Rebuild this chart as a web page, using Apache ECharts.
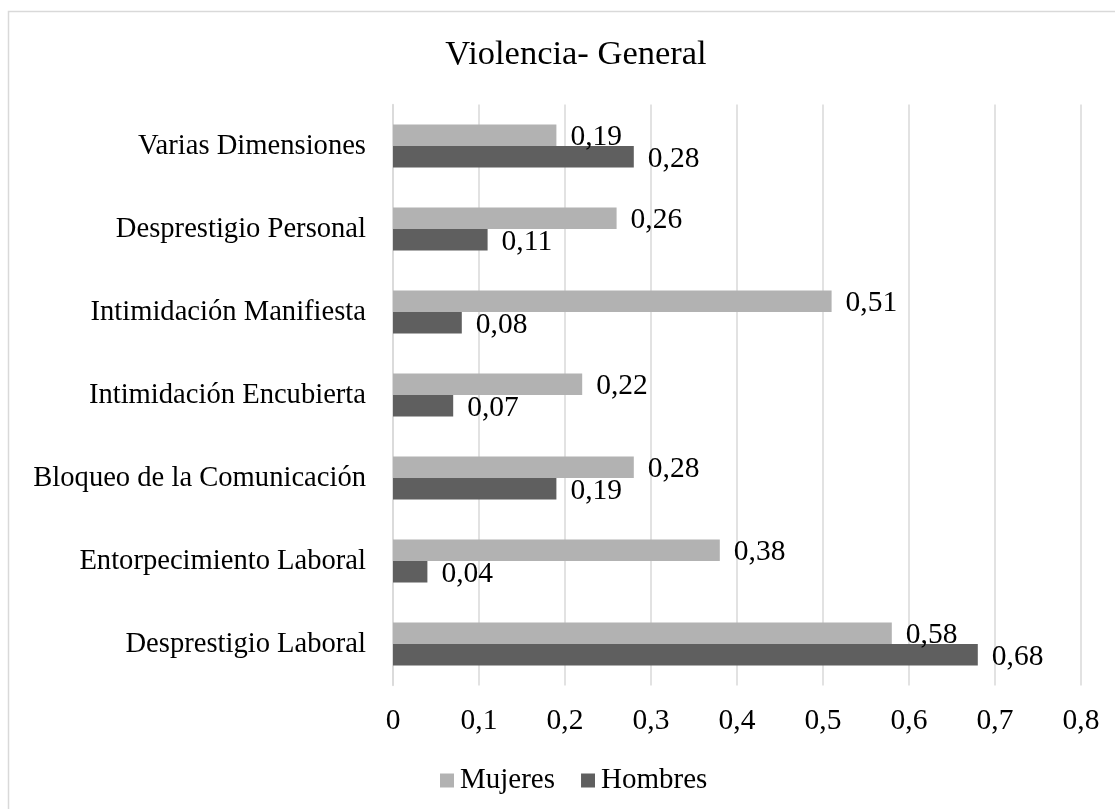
<!DOCTYPE html>
<html>
<head>
<meta charset="utf-8">
<title>Violencia- General</title>
<script src="https://cdn.jsdelivr.net/npm/echarts@6/dist/echarts.min.js"></script>
<style>
  html, body { margin: 0; padding: 0; background: #ffffff; }
  #chart { width: 1115px; height: 809px; }
</style>
</head>
<body>
<div id="chart"></div>
<script>
// Categories listed from the bottom of the chart to the top
const categories = [
  'Desprestigio Laboral',
  'Entorpecimiento Laboral',
  'Bloqueo de la Comunicación',
  'Intimidación Encubierta',
  'Intimidación Manifiesta',
  'Desprestigio Personal',
  'Varias Dimensiones'
];
const mujeres = [0.58, 0.38, 0.28, 0.22, 0.51, 0.26, 0.19];
const hombres = [0.68, 0.04, 0.19, 0.07, 0.08, 0.11, 0.28];
const xTicks = [0, 0.1, 0.2, 0.3, 0.4, 0.5, 0.6, 0.7, 0.8];

const FONT = '"Liberation Serif", "Times New Roman", serif';
const comma = v => (Math.round(v * 100) / 100).toString().replace('.', ',');

const chart = echarts.init(document.getElementById('chart'), null, { renderer: 'canvas' });

const labelStyle = {
  show: true,
  position: 'right',
  distance: 14,
  offset: [0, 2],
  color: '#000000',
  fontFamily: FONT,
  fontSize: 29.5,
  formatter: p => comma(p.value)
};

chart.setOption({
  animation: false,
  backgroundColor: '#ffffff',
  textStyle: { fontFamily: FONT },
  title: {
    text: 'Violencia- General',
    left: 571,
    textAlign: 'center',
    top: 32,
    textStyle: { fontFamily: FONT, fontSize: 34.5, fontWeight: 'normal', color: '#000000' }
  },
  legend: {
    data: ['Mujeres', 'Hombres'],
    left: 435,
    top: 761,
    icon: 'rect',
    itemWidth: 14,
    itemHeight: 14,
    itemGap: 26,
    textStyle: { fontFamily: FONT, fontSize: 29, color: '#000000', padding: [0, 0, 0, 1] }
  },
  graphic: [{
    type: 'rect',
    shape: { x: 8.5, y: 11.5, width: 1200, height: 900 },
    style: { fill: 'none', stroke: '#d9d9d9', lineWidth: 1.5 },
    silent: true
  }],
  grid: { left: 393, right: 34, top: 104.5, bottom: 123.5, containLabel: false },
  xAxis: {
    type: 'value',
    min: xTicks[0],
    max: xTicks[xTicks.length - 1],
    interval: 0.1,
    axisLine: { show: false },
    axisTick: { show: false },
    splitLine: { show: true, lineStyle: { color: '#d9d9d9', width: 1.5 } },
    axisLabel: {
      margin: 21,
      color: '#000000',
      fontFamily: FONT,
      fontSize: 29.5,
      formatter: v => comma(v)
    }
  },
  yAxis: {
    type: 'category',
    data: categories,
    axisLine: { show: true, lineStyle: { color: '#d9d9d9', width: 1.5 } },
    axisTick: { show: false },
    splitLine: { show: false },
    axisLabel: {
      margin: 27,
      color: '#000000',
      fontFamily: FONT,
      fontSize: 28.6
    }
  },
  series: [
    {
      name: 'Mujeres',
      type: 'bar',
      data: mujeres,
      barWidth: 21.5,
      barGap: '0%',
      itemStyle: { color: '#b2b2b2' },
      label: labelStyle
    },
    {
      name: 'Hombres',
      type: 'bar',
      data: hombres,
      barWidth: 21.5,
      barGap: '0%',
      itemStyle: { color: '#5f5f5f' },
      label: labelStyle
    }
  ]
});
</script>
</body>
</html>
